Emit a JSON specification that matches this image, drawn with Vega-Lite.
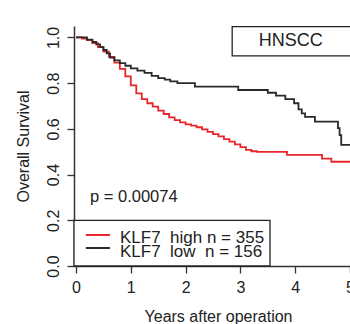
{
  "$schema": "https://vega.github.io/schema/vega-lite/v6.json",
  "width": 276,
  "height": 240,
  "autosize": "none",
  "padding": {"left": 74, "top": 26, "right": 0, "bottom": 58},
  "background": "white",
  "config": {"view": {"stroke": null}, "font": "Liberation Sans"},
  "layer": [
    {
      "data": {"values": [
        {"group": "high", "years": 0, "survival": 1.0},
        {"group": "high", "years": 0.11, "survival": 0.995},
        {"group": "high", "years": 0.2, "survival": 0.988},
        {"group": "high", "years": 0.3, "survival": 0.975},
        {"group": "high", "years": 0.4, "survival": 0.958},
        {"group": "high", "years": 0.5, "survival": 0.938},
        {"group": "high", "years": 0.6, "survival": 0.915},
        {"group": "high", "years": 0.7, "survival": 0.89},
        {"group": "high", "years": 0.8, "survival": 0.862},
        {"group": "high", "years": 0.9, "survival": 0.83},
        {"group": "high", "years": 1.0, "survival": 0.79},
        {"group": "high", "years": 1.1, "survival": 0.755},
        {"group": "high", "years": 1.2, "survival": 0.73},
        {"group": "high", "years": 1.3, "survival": 0.712},
        {"group": "high", "years": 1.4, "survival": 0.697},
        {"group": "high", "years": 1.5, "survival": 0.68},
        {"group": "high", "years": 1.6, "survival": 0.665},
        {"group": "high", "years": 1.7, "survival": 0.65},
        {"group": "high", "years": 1.8, "survival": 0.638},
        {"group": "high", "years": 1.9, "survival": 0.628},
        {"group": "high", "years": 2.0, "survival": 0.62},
        {"group": "high", "years": 2.1, "survival": 0.614},
        {"group": "high", "years": 2.2, "survival": 0.607},
        {"group": "high", "years": 2.3, "survival": 0.598},
        {"group": "high", "years": 2.4, "survival": 0.587},
        {"group": "high", "years": 2.5, "survival": 0.577},
        {"group": "high", "years": 2.6, "survival": 0.567},
        {"group": "high", "years": 2.7, "survival": 0.555},
        {"group": "high", "years": 2.8, "survival": 0.544},
        {"group": "high", "years": 2.9, "survival": 0.532},
        {"group": "high", "years": 3.0, "survival": 0.52},
        {"group": "high", "years": 3.1, "survival": 0.508},
        {"group": "high", "years": 3.2, "survival": 0.502},
        {"group": "high", "years": 3.3, "survival": 0.499},
        {"group": "high", "years": 3.85, "survival": 0.486},
        {"group": "high", "years": 4.49, "survival": 0.47},
        {"group": "high", "years": 4.66, "survival": 0.456},
        {"group": "high", "years": 5.1, "survival": 0.456},
        {"group": "low", "years": 0, "survival": 1.0},
        {"group": "low", "years": 0.2, "survival": 0.99},
        {"group": "low", "years": 0.3, "survival": 0.98},
        {"group": "low", "years": 0.37, "survival": 0.97},
        {"group": "low", "years": 0.44, "survival": 0.958},
        {"group": "low", "years": 0.5, "survival": 0.945},
        {"group": "low", "years": 0.56, "survival": 0.93},
        {"group": "low", "years": 0.62, "survival": 0.912},
        {"group": "low", "years": 0.7, "survival": 0.9},
        {"group": "low", "years": 0.8, "survival": 0.888},
        {"group": "low", "years": 0.9, "survival": 0.876},
        {"group": "low", "years": 1.0, "survival": 0.865},
        {"group": "low", "years": 1.12, "survival": 0.855},
        {"group": "low", "years": 1.25, "survival": 0.845},
        {"group": "low", "years": 1.38, "survival": 0.832},
        {"group": "low", "years": 1.5, "survival": 0.822},
        {"group": "low", "years": 1.62, "survival": 0.815},
        {"group": "low", "years": 1.72, "survival": 0.808},
        {"group": "low", "years": 1.85, "survival": 0.8},
        {"group": "low", "years": 2.17, "survival": 0.785},
        {"group": "low", "years": 2.96, "survival": 0.77},
        {"group": "low", "years": 3.5, "survival": 0.758},
        {"group": "low", "years": 3.65, "survival": 0.745},
        {"group": "low", "years": 3.82, "survival": 0.73},
        {"group": "low", "years": 3.98, "survival": 0.712},
        {"group": "low", "years": 4.06, "survival": 0.685},
        {"group": "low", "years": 4.12, "survival": 0.668},
        {"group": "low", "years": 4.18, "survival": 0.652},
        {"group": "low", "years": 4.36, "survival": 0.632},
        {"group": "low", "years": 4.78, "survival": 0.603},
        {"group": "low", "years": 4.81, "survival": 0.573},
        {"group": "low", "years": 4.84, "survival": 0.53},
        {"group": "low", "years": 5.1, "survival": 0.53}
      ]},
      "mark": {"type": "line", "interpolate": "step-after", "strokeWidth": 1.8, "clip": true},
      "encoding": {
        "x": {
          "field": "years", "type": "quantitative",
          "scale": {"domain": [-0.0365, 5.0], "nice": false, "zero": false},
          "axis": {
            "values": [0, 1, 2, 3, 4, 5], "format": "d", "title": "Years after operation",
            "grid": false, "tickSize": 7, "tickWidth": 1.3, "tickColor": "#333",
            "domainColor": "#333", "domainWidth": 1.5,
            "labelFontSize": 16, "labelColor": "#222", "labelPadding": 6, "labelFlush": false, "labelOverlap": false,
            "titleFontSize": 16, "titleFontWeight": "normal", "titleColor": "#222", "titlePadding": 13, "titleX": 144
          }
        },
        "y": {
          "field": "survival", "type": "quantitative",
          "scale": {"domain": [0, 1.05], "nice": false},
          "axis": {
            "values": [0, 0.2, 0.4, 0.6, 0.8, 1.0], "format": ".1f", "title": "Overall Survival",
            "grid": false, "tickSize": 7, "tickWidth": 1.3, "tickColor": "#333",
            "domainColor": "#333", "domainWidth": 1.5,
            "labelAngle": 270, "labelAlign": "center", "labelBaseline": "alphabetic", "labelPadding": 9,
            "labelFontSize": 16, "labelColor": "#222", "labelOverlap": false,
            "titleFontSize": 16, "titleFontWeight": "normal", "titleColor": "#222", "titlePadding": 14
          }
        },
        "color": {
          "field": "group", "type": "nominal",
          "scale": {"domain": ["high", "low"], "range": ["#e8262b", "#2a2a2a"]},
          "legend": null
        }
      }
    },
    {
      "data": {"values": [{"label": "KLF7 legend"}]},
      "mark": {"type": "rect", "fill": "white", "stroke": "#222", "strokeWidth": 1.3},
      "encoding": {"x": {"datum": -0.0365}, "x2": {"datum": 3.54}, "y": {"datum": 0}, "y2": {"datum": 0.2}}
    },
    {
      "data": {"values": [{"label": "KLF7\u00a0\u00a0high n = 355"}]},
      "layer": [
        {"mark": {"type": "rule", "color": "#e8262b", "strokeWidth": 2},
         "encoding": {"x": {"datum": 0.18}, "x2": {"datum": 0.62}, "y": {"datum": 0.1356}}},
        {"mark": {"type": "text", "align": "left", "baseline": "alphabetic", "fontSize": 17, "font": "Liberation Sans", "color": "#222"},
         "encoding": {"x": {"datum": 0.803}, "y": {"datum": 0.0993}, "text": {"field": "label"}}}
      ]
    },
    {
      "data": {"values": [{"label": "KLF7\u00a0\u00a0low\u00a0\u00a0n = 156"}]},
      "layer": [
        {"mark": {"type": "rule", "color": "#2a2a2a", "strokeWidth": 2},
         "encoding": {"x": {"datum": 0.18}, "x2": {"datum": 0.62}, "y": {"datum": 0.0787}}},
        {"mark": {"type": "text", "align": "left", "baseline": "alphabetic", "fontSize": 17, "font": "Liberation Sans", "color": "#222"},
         "encoding": {"x": {"datum": 0.803}, "y": {"datum": 0.0407}, "text": {"field": "label"}}}
      ]
    },
    {
      "data": {"values": [{"label": "p = 0.00074"}]},
      "mark": {"type": "text", "align": "left", "baseline": "alphabetic", "fontSize": 16.5, "font": "Liberation Sans", "color": "#222"},
      "encoding": {"x": {"datum": 0.255}, "y": {"datum": 0.28}, "text": {"field": "label"}}
    },
    {
      "data": {"values": [{"label": "HNSCC"}]},
      "mark": {"type": "rect", "fill": "white", "stroke": "#222", "strokeWidth": 1.3, "clip": true},
      "encoding": {"x": {"datum": 2.85}, "x2": {"datum": 5.5}, "y": {"datum": 0.919}, "y2": {"datum": 1.047}}
    },
    {
      "data": {"values": [{"label": "HNSCC"}]},
      "mark": {"type": "text", "align": "center", "baseline": "middle", "fontSize": 18, "font": "Liberation Sans", "color": "#222"},
      "encoding": {"x": {"datum": 3.92}, "y": {"datum": 0.985}, "text": {"field": "label"}}
    }
  ]
}
